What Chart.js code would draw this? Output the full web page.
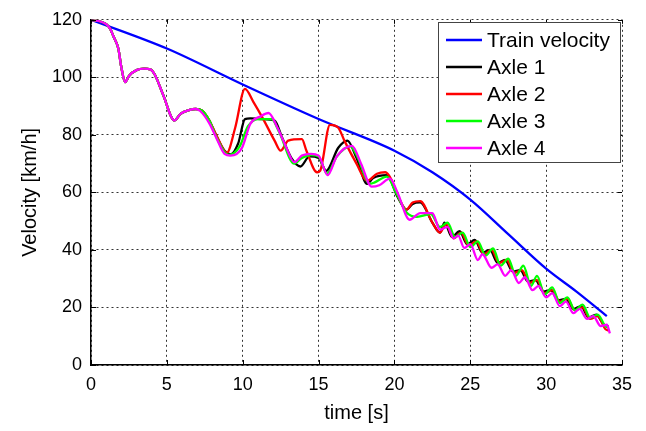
<!DOCTYPE html>
<html>
<head>
<meta charset="utf-8">
<title>Velocity</title>
<script src="https://cdn.jsdelivr.net/npm/chart.js@4.4.1/dist/chart.umd.min.js"></script>
<style>
  body { margin: 0; background: #fff; }
  #wrap { width: 646px; height: 431px; }
</style>
</head>
<body>
<div id="wrap"><canvas id="myChart" width="646" height="431"></canvas></div>
<script>
// train reference speed
var trainTime  = [0, 5, 10, 15, 20, 22.5, 25, 27.5, 30, 32, 34];
var trainSpeed = [120, 110, 97.5, 85.5, 74.5, 67, 57.5, 45.5, 33.5, 25.5, 17];

// all axles run together during the first seconds of braking
var startTime  = [0, 0.5, 1, 1.25, 1.5, 1.8, 2, 2.25, 2.5, 3, 3.5, 3.9, 4.2, 4.75, 5.5, 5.9, 6.4, 6.9];
var startSpeed = [120, 119.6, 118.5, 117, 114, 110, 103.5, 98.3, 100.5, 102.5, 103, 102.8, 101, 94, 85, 87.3, 88.5, 89];

var axle1Time  = [7.3, 7.8, 8.2, 8.8, 9.2, 9.7, 10.15, 10.5, 11.3, 12.1, 12.6, 13.2, 13.8, 14.4, 15.0, 15.5, 16.3, 16.9, 17.5, 18.2, 18.6, 19.5, 20.2, 20.8, 21.2, 21.7, 22.5, 23.0, 23.3,
                  23.8, 24.3, 24.8, 25.3, 25.8, 26.3, 26.8, 27.3, 27.8, 28.3, 28.8, 29.3, 29.8, 30.3, 30.8, 31.3, 31.8, 32.3, 32.8, 33.3, 33.8, 34.1];
var axle1Speed = [88.5, 85, 80.3, 74.5, 73.2, 77, 85.5, 85.7, 85.5, 85, 79, 72, 69, 72.5, 72, 67.5, 75.5, 78, 72, 63, 65, 66, 58.5, 54, 56, 56.5, 49.5, 46, 49.5,
                  44.5, 46.5, 42, 43.5, 39, 40, 35.5, 36.5, 32.5, 33, 29, 29.5, 25.5, 26, 22.5, 23, 19.5, 20.5, 16.5, 17.5, 14, 13.5];

var axle2Time  = [7.3, 7.8, 8.3, 8.95, 9.5, 10.15, 10.7, 11.3, 12.1, 12.5, 13.0, 13.9, 14.2, 14.9, 15.1, 15.75, 16.3, 16.7, 17.5, 18.2, 18.85, 19.4, 19.8, 20.3, 20.8, 21.2, 21.7, 22.5, 23.0, 23.4,
                  23.9, 24.4, 24.9, 25.4, 25.9, 26.4, 26.9, 27.4, 27.9, 28.4, 28.9, 29.4, 29.9, 30.4, 30.9, 31.4, 31.9, 32.4, 32.9, 33.4, 33.9, 34.1];
var axle2Speed = [88.5, 85, 79.5, 73.8, 82.4, 96, 91.5, 86, 78, 74.5, 78, 78.5, 74.5, 67, 67.5, 83.5, 82.5, 78, 70, 64, 66.5, 67, 64.5, 58, 54, 56.5, 57, 49.5, 46, 49,
                  44, 46, 41.5, 43, 38.5, 40, 35.5, 36.5, 32, 33, 28.5, 29.5, 25, 26, 22, 23, 19, 20, 16, 17, 12.5, 12];

var axle3Time  = [7.3, 7.8, 8.2, 8.8, 9.1, 9.8, 10.35, 11.0, 11.9, 12.4, 13.4, 13.9, 14.5, 15.0, 15.55, 16.2, 17.1, 17.5, 18.4, 18.7, 19.5, 20.1, 20.8, 21.5, 22.4, 23.0, 23.5,
                  24.0, 24.5, 25.0, 25.5, 26.0, 26.5, 27.0, 27.5, 28.0, 28.5, 29.0, 29.4, 29.9, 30.4, 30.9, 31.4, 31.9, 32.4, 32.9, 33.4, 33.9, 34.1];
var axle3Speed = [88.5, 85, 80, 74, 73, 76, 83, 85.5, 85.5, 81, 70, 72, 73, 72.5, 66.5, 72.5, 76, 73, 63, 63.5, 65.5, 60, 53, 51.5, 52.5, 48, 49.5,
                  44.5, 46, 41, 43, 38, 40.5, 34.5, 37, 31, 34.5, 27.5, 31, 24.5, 27, 21.5, 23.5, 19, 21, 16.5, 17.5, 13.5, 13];

var axle4Time  = [7.2, 7.8, 8.3, 8.8, 9.2, 9.95, 10.5, 11.2, 11.7, 12.3, 12.8, 13.4, 13.9, 14.5, 15.0, 15.6, 16.2, 17.2, 17.8, 18.5, 19.0, 19.7, 20.2, 21.0, 21.7, 22.5, 23.0,
                  23.5, 23.9, 24.2, 24.6, 25.0, 25.5, 25.8, 26.4, 26.8, 27.3, 27.7, 28.2, 28.6, 29.1, 29.5, 30.0, 30.4, 30.9, 31.3, 31.8, 32.2, 32.7, 33.1, 33.6, 34.0, 34.2];
var axle4Speed = [88.3, 84, 78.5, 73.4, 72.8, 75.5, 83.8, 86.5, 87.6, 82.4, 76.5, 70.5, 72.8, 73.4, 72.8, 66, 72.5, 76.2, 70, 62, 62.5, 64.8, 60, 50.5, 52.8, 52.8, 47,
                  48, 44, 45, 40.7, 42, 36.5, 38.5, 33.8, 35, 31, 33, 28.5, 30.5, 26, 27.5, 23.5, 25, 20.5, 22, 18, 19.5, 16, 17, 13.5, 14, 11];

var xTicks = [0, 5, 10, 15, 20, 25, 30, 35];
var yTicks = [0, 20, 40, 60, 80, 100, 120];

var seriesNames  = ['Train velocity', 'Axle 1', 'Axle 2', 'Axle 3', 'Axle 4'];
var seriesColors = ['#0000ff', '#000000', '#ff0000', '#00ff00', '#ff00ff'];

function points(t, v) {
    return t.map(function (x, i) { return { x: x, y: v[i] }; });
}

var allTimes = [trainTime, startTime.concat(axle1Time), startTime.concat(axle2Time), startTime.concat(axle3Time), startTime.concat(axle4Time)];
var allSpeeds = [trainSpeed, startSpeed.concat(axle1Speed), startSpeed.concat(axle2Speed), startSpeed.concat(axle3Speed), startSpeed.concat(axle4Speed)];

var datasets = seriesNames.map(function (name, i) {
    return {
        label: name,
        data: points(allTimes[i], allSpeeds[i]),
        borderColor: seriesColors[i],
        backgroundColor: seriesColors[i],
        borderWidth: 2.3,
        pointRadius: 0,
        fill: false,
        cubicInterpolationMode: 'monotone',
        order: seriesNames.length - i   // later axles on top
    };
});

// small inward tick marks on all four sides
var innerTicks = {
    id: 'innerTicks',
    afterDatasetsDraw: function (chart) {
        var c = chart.ctx, a = chart.chartArea;
        var xs = chart.scales.x, ys = chart.scales.y;
        c.save();
        c.strokeStyle = '#000';
        c.lineWidth = 1;
        c.beginPath();
        xTicks.forEach(function (t) {
            var px = Math.round(xs.getPixelForValue(t)) + 0.5;
            c.moveTo(px, a.bottom); c.lineTo(px, a.bottom - 5);
            c.moveTo(px, a.top); c.lineTo(px, a.top + 4);
        });
        yTicks.forEach(function (t) {
            var py = Math.round(ys.getPixelForValue(t)) + 0.5;
            c.moveTo(a.left, py); c.lineTo(a.left + 5, py);
            c.moveTo(a.right, py); c.lineTo(a.right - 4, py);
        });
        c.stroke();
        c.restore();
    }
};

// boxed legend in the upper right corner
var boxLegend = {
    id: 'boxLegend',
    afterDraw: function (chart) {
        var c = chart.ctx;
        var x0 = 438, y0 = 22, w = 182, h = 140, step = 27;
        c.save();
        c.fillStyle = '#fff';
        c.fillRect(x0, y0, w, h);
        c.strokeStyle = '#444';
        c.lineWidth = 1;
        c.strokeRect(x0 + 0.5, y0 + 0.5, w, h);
        c.font = '21px "Liberation Sans", Arial, sans-serif';
        c.textBaseline = 'middle';
        c.textAlign = 'left';
        chart.data.datasets.forEach(function (ds, i) {
            var y = y0 + 18 + i * step;
            c.strokeStyle = ds.borderColor;
            c.lineWidth = 2.5;
            c.beginPath();
            c.moveTo(x0 + 8, y); c.lineTo(x0 + 44, y);
            c.stroke();
            c.fillStyle = '#000';
            c.fillText(ds.label, x0 + 49, y + 1);
        });
        c.restore();
    }
};

var ctx = document.getElementById('myChart').getContext('2d');
var myChart = new Chart(ctx, {
    type: 'line',
    data: { datasets: datasets },
    plugins: [innerTicks, boxLegend],
    options: {
        responsive: false,
        animation: false,
        layout: { padding: { left: 0, top: 17, right: 24, bottom: 0 } },
        plugins: {
            legend: { display: false },
            tooltip: { enabled: false }
        },
        scales: {
            x: {
                type: 'linear',
                min: 0,
                max: 35,
                afterFit: function (s) { s.height = 66; },
                afterBuildTicks: function (s) { s.ticks = xTicks.map(function (v) { return { value: v }; }); },
                grid: { color: '#333', lineWidth: 1, drawTicks: false },
                border: { display: true, color: '#000', width: 1.5, dash: [2, 3] },
                ticks: { color: '#000', padding: 9, font: { family: '"Liberation Sans", Arial, sans-serif', size: 18 } },
                title: {
                    display: true,
                    text: 'time [s]',
                    color: '#000',
                    padding: { top: 0, bottom: 6 },
                    font: { family: '"Liberation Sans", Arial, sans-serif', size: 20 }
                }
            },
            y: {
                min: 0,
                max: 120,
                afterFit: function (s) { s.width = 91; },
                afterBuildTicks: function (s) { s.ticks = yTicks.map(function (v) { return { value: v }; }); },
                grid: { color: '#333', lineWidth: 1, drawTicks: false },
                border: { display: true, color: '#000', width: 1.5, dash: [2, 3] },
                ticks: { color: '#000', padding: 9, font: { family: '"Liberation Sans", Arial, sans-serif', size: 18 } },
                title: {
                    display: true,
                    text: 'Velocity [km/h]',
                    color: '#000',
                    padding: { top: 18, bottom: 0 },
                    font: { family: '"Liberation Sans", Arial, sans-serif', size: 20 }
                }
            }
        }
    }
});
</script>
</body>
</html>
